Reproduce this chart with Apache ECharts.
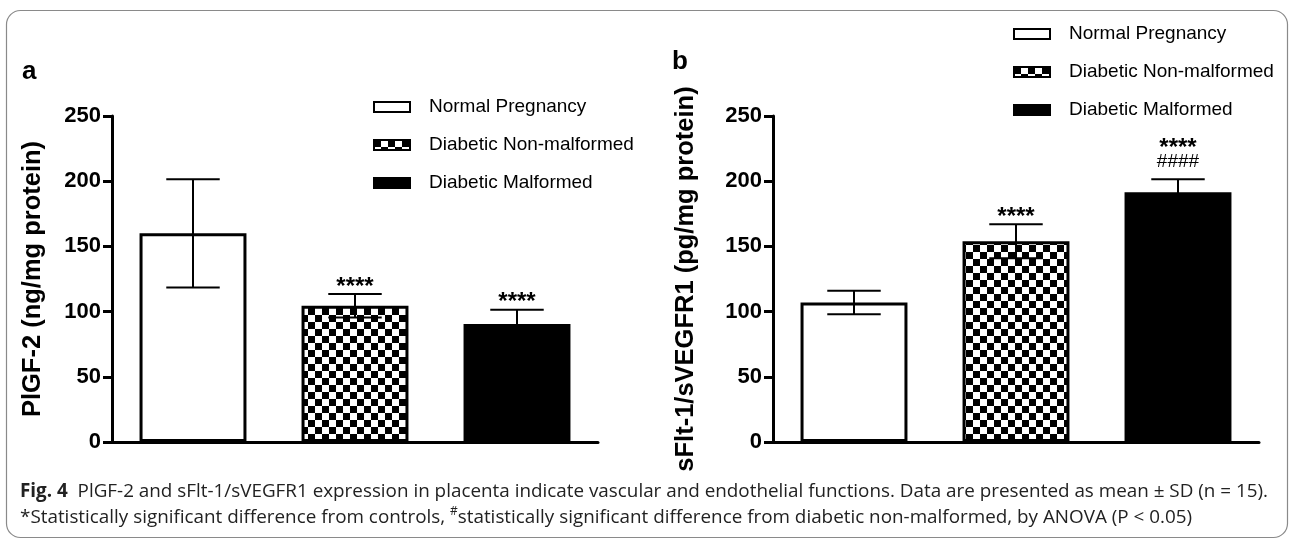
<!DOCTYPE html>
<html>
<head>
<meta charset="utf-8">
<script src="https://cdn.jsdelivr.net/npm/echarts@6/dist/echarts.min.js"></script>
<style>
  html, body { margin: 0; padding: 0; background: #fff; }
  #chart { width: 1290px; height: 540px; }
</style>
</head>
<body>
<div id="chart"></div>
<script>
// ---------- data ----------
const groups = ['Normal Pregnancy', 'Diabetic Non-malformed', 'Diabetic Malformed'];

const meanA = [160, 104.5, 90.5];
const sdA = [41.5, 9, 11];
const starsA = ['', '****', '****'];
const hashA = ['', '', ''];

const meanB = [107, 154, 191.5];
const sdB = [9, 13, 10];
const starsB = ['', '****', '****'];
const hashB = ['', '', '####'];

const yMin = 0, yMax = 250, yStep = 50;

const panelLetters = ['a', 'b'];
const yTitles = ['PlGF-2 (ng/mg protein)', 'sFlt-1/sVEGFR1 (pg/mg protein)'];

const captionFig = 'Fig. 4';
const captionLine1 = 'PlGF-2 and sFlt-1/sVEGFR1 expression in placenta indicate vascular and endothelial functions. Data are presented as mean \u00b1 SD (n = 15).';
const captionLine2a = '*Statistically significant difference from controls, ';
const captionLine2sup = '#';
const captionLine2b = 'statistically significant difference from diabetic non-malformed, by ANOVA (P < 0.05)';

// ---------- styling helpers ----------
function checker() {
  const c = document.createElement('canvas');
  const s = 7;
  c.width = 2 * s; c.height = 2 * s;
  const ctx = c.getContext('2d');
  ctx.fillStyle = '#fff';
  ctx.fillRect(0, 0, 2 * s, 2 * s);
  ctx.fillStyle = '#000';
  ctx.fillRect(0, 0, s, s);
  ctx.fillRect(s, s, s, s);
  return { image: c, repeat: 'repeat' };
}
const fills = ['#ffffff', checker(), '#000000'];
const FONT = 'Liberation Sans, Arial, sans-serif';

const panels = [
  { mean: meanA, sd: sdA, stars: starsA, hash: hashA, grid: { left: 112, right: 692, top: 116, bottom: 98 }, nameGap: 66, legend: { left: 368, top: 92 } },
  { mean: meanB, sd: sdB, stars: starsB, hash: hashB, grid: { left: 773, right: 31, top: 116, bottom: 98 }, nameGap: 74, legend: { left: 1008, top: 19 } }
];

const grids = [], xAxes = [], yAxes = [], series = [], legends = [];
panels.forEach((p, pi) => {
  grids.push(Object.assign({ containLabel: false }, p.grid));
  xAxes.push({
    type: 'category', gridIndex: pi, data: groups,
    axisLine: { lineStyle: { color: '#000', width: 3 } },
    axisTick: { alignWithLabel: true, length: 10, lineStyle: { color: '#000', width: 3 } },
    axisLabel: { show: false },
    splitLine: { show: false }
  });
  yAxes.push({
    type: 'value', gridIndex: pi, min: yMin, max: yMax, interval: yStep,
    name: yTitles[pi], nameLocation: 'middle', nameGap: p.nameGap, nameRotate: 90,
    nameTextStyle: { fontFamily: FONT, fontWeight: 'bold', fontSize: 25.5, color: '#000' },
    axisLine: { show: true, lineStyle: { color: '#000', width: 3 } },
    axisTick: { show: true, length: 9, lineStyle: { color: '#000', width: 3 } },
    axisLabel: { fontFamily: FONT, fontWeight: 'bold', fontSize: 22, color: '#000', margin: 11 },
    splitLine: { show: false }
  });
  groups.forEach((g, gi) => {
    series.push({
      type: 'bar', name: g, xAxisIndex: pi, yAxisIndex: pi,
      data: groups.map((_, j) => (j === gi ? p.mean[j] : '-')),
      barGap: '-100%', barCategoryGap: '34%',
      itemStyle: { color: fills[gi], borderColor: '#000', borderWidth: 3 },
      silent: true, z: 2
    });
  });
  series.push({
    type: 'custom', xAxisIndex: pi, yAxisIndex: pi, silent: true, z: 5,
    data: p.mean.map((m, i) => [i, m, p.sd[i]]),
    encode: { x: 0, y: 1 },
    renderItem: function (params, api) {
      const i = api.value(0), m = api.value(1), s = api.value(2);
      const top = api.coord([i, m + s]);
      const bot = api.coord([i, m - s]);
      const half = api.size([1, 0])[0] * 0.66 * 0.25;
      const ls = { stroke: '#000', lineWidth: 2 };
      const children = [
        { type: 'line', shape: { x1: top[0], y1: top[1], x2: bot[0], y2: bot[1] }, style: ls },
        { type: 'line', shape: { x1: top[0] - half, y1: top[1], x2: top[0] + half, y2: top[1] }, style: ls },
        { type: 'line', shape: { x1: bot[0] - half, y1: bot[1], x2: bot[0] + half, y2: bot[1] }, style: ls }
      ];
      const st = p.stars[params.dataIndex], hs = p.hash[params.dataIndex];
      if (hs) {
        children.push({ type: 'text', x: top[0], y: top[1] - 17, style: { text: hs, fontFamily: FONT, fontSize: 19, fill: '#000', align: 'center', verticalAlign: 'middle' } });
      }
      if (st) {
        children.push({ type: 'text', x: top[0], y: top[1] - (hs ? 31 : 7), style: { text: st, fontFamily: FONT, fontWeight: 'bold', fontSize: 24, fill: '#000', align: 'center', verticalAlign: 'middle' } });
      }
      return { type: 'group', children: children };
    }
  });
  legends.push({
    orient: 'vertical', left: p.legend.left, top: p.legend.top,
    itemWidth: 36, itemHeight: 10, itemGap: 18, icon: 'rect', selectedMode: false,
    textStyle: { fontFamily: FONT, fontSize: 19, color: '#000', padding: [0, 0, 0, 14], lineHeight: 20 },
    data: groups
  });
});

// caption measurement (fit to the reference line width)
const mctx = document.createElement('canvas').getContext('2d');
const CAP_FONT = '"Open Sans", sans-serif';
const CAP_SIZE = 19;
mctx.font = 'bold ' + CAP_SIZE + 'px ' + CAP_FONT;
const wFig = mctx.measureText(captionFig).width;
mctx.font = CAP_SIZE + 'px ' + CAP_FONT;
const wLine1 = wFig + mctx.measureText('  ' + captionLine1).width;
const capScale = 1248 / wLine1;

const capRich = {
  b: { fontFamily: CAP_FONT, fontWeight: 'bold', fontSize: CAP_SIZE, fill: '#222' },
  sup: { fontFamily: CAP_FONT, fontSize: 12, fill: '#222', verticalAlign: 'top', lineHeight: 24 }
};

const graphic = [
  { type: 'rect', left: 4, top: 8, shape: { width: 1281, height: 527, r: 14 }, style: { fill: 'none', stroke: '#8a8a8a', lineWidth: 1.2 }, silent: true },
  { type: 'text', x: 22, y: 72, style: { text: panelLetters[0], fontFamily: FONT, fontWeight: 'bold', fontSize: 26, fill: '#000', verticalAlign: 'middle' } },
  { type: 'text', x: 672, y: 62, style: { text: panelLetters[1], fontFamily: FONT, fontWeight: 'bold', fontSize: 26, fill: '#000', verticalAlign: 'middle' } },
  { type: 'text', x: 20, y: 492, scaleX: capScale, originX: 0, originY: 0,
    style: { text: '{b|' + captionFig + '}  ' + captionLine1, rich: capRich, fontFamily: CAP_FONT, fontSize: CAP_SIZE, fill: '#222', verticalAlign: 'middle', lineHeight: 24 } },
  { type: 'text', x: 20, y: 518, scaleX: capScale, originX: 0, originY: 0,
    style: { text: captionLine2a + '{sup|' + captionLine2sup + '}' + captionLine2b, rich: capRich, fontFamily: CAP_FONT, fontSize: CAP_SIZE, fill: '#222', verticalAlign: 'middle', lineHeight: 24 } }
];

const chart = echarts.init(document.getElementById('chart'), null, { renderer: 'canvas' });
chart.setOption({
  animation: false,
  backgroundColor: '#fff',
  grid: grids,
  xAxis: xAxes,
  yAxis: yAxes,
  legend: legends,
  series: series,
  graphic: graphic
});
</script>
</body>
</html>
